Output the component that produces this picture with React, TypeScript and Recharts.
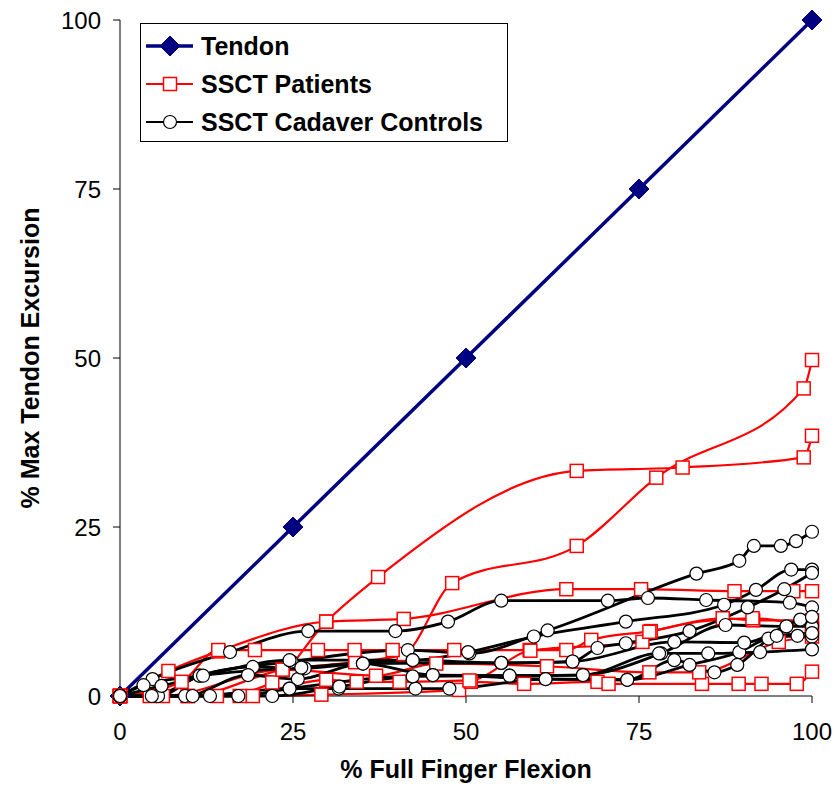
import React from 'react';
import { LineChart, Line, XAxis, YAxis } from 'recharts';

type Pt = [number, number];

const AXIS_TICKS = [0, 25, 50, 75, 100];

const tendon: Pt[] = [[0, 0], [25, 25], [50, 50], [75, 75], [100, 100]];

// SSCT patients
const patientA: Pt[] = [[0, 0], [14, 0], [22, 2], [29.8, 11], [37.3, 17.6], [66, 33.3], [81.3, 33.8], [98.8, 35.3], [100, 38.5]];
const patientB: Pt[] = [[0, 0], [9.8, 0], [23.5, 3.9], [34, 5], [41, 6.2], [48, 16.7], [66, 22.2], [77.5, 32.3], [98.8, 45.5], [100, 49.7]];
const patientC: Pt[] = [[0, 0], [7, 3.7], [14.2, 6.6], [29.8, 11], [41, 11.4], [64.5, 15.8], [75.3, 15.8], [88.8, 15.5], [97.3, 15.5], [100, 15.5]];
const patientD: Pt[] = [[0, 0], [4.3, 0], [9.8, 0], [19.2, 0], [29.1, 0.2], [49, 0.9], [50.7, 2.1], [58.4, 1.8], [69, 2.1], [70.6, 1.8], [84.1, 1.8], [89.4, 1.8], [92.7, 1.8], [97.8, 1.8], [100, 3.6]];
const patientE: Pt[] = [[0, 0], [8.9, 2.1], [14.2, 6.8], [19.5, 6.8], [28.6, 6.8], [33.9, 6.8], [39.4, 6.8], [48.3, 6.8], [59.2, 6.8], [64.5, 6.8], [68.1, 8.3], [76.7, 9.6], [87.1, 11.5], [91.5, 11.2], [100, 11.2]];
const patientF: Pt[] = [[0, 0], [6.2, 0], [23.5, 3.9], [37, 3], [45.7, 4.8], [61.7, 4.4], [76.5, 3.5], [83.7, 3.5], [95.2, 8], [100, 8.8]];
const patientG: Pt[] = [[0, 0], [17.3, 0], [29.8, 2.4], [34.2, 2.1], [40.4, 2.1], [50.5, 2.3], [59.3, 6.7], [75.5, 8], [76.5, 9.5], [91.4, 11.5], [100, 10]];

// SSCT cadaver controls
const cadaver1: Pt[] = [[0, 0], [5.5, 0], [11.5, 3], [24.8, 5.1], [41.6, 6.8], [50.5, 6.3], [61.8, 9.7], [83.3, 18.1], [89.5, 20], [91.6, 22.2], [95.5, 22.2], [97.7, 22.9], [100, 24.3]];
const cadaver2: Pt[] = [[0, 0], [4.7, 2.5], [15.9, 6.5], [27.2, 9.6], [39.8, 9.6], [47.4, 11], [55.1, 14.1], [70.5, 14.1], [76.3, 14.5], [84.7, 14.2], [96.8, 13.8], [100, 13.1]];
const cadaver3: Pt[] = [[0, 0], [3.4, 1.6], [11.5, 3], [24.5, 5.3], [42.3, 5.3], [50.3, 6.5], [59.8, 8.8], [73.1, 11], [87.3, 13.5], [91.9, 15.7], [97, 18.7], [100, 18.7]];
const cadaver4: Pt[] = [[0, 0], [6, 1.5], [19.2, 4.3], [26.7, 4.1], [35.1, 4.8], [55.1, 4.9], [65.4, 5.1], [69, 7.1], [73.1, 7.8], [82.3, 9.6], [90.7, 13.1], [96, 15.8], [100, 18.2]];
const cadaver5: Pt[] = [[0, 0], [9.4, 0], [18.5, 3.1], [25.7, 2.5], [35.1, 4.8], [45.2, 3.1], [56.3, 3], [66.9, 3.1], [78.2, 6.3], [87.5, 10.5], [96.3, 10.3], [100, 10.3]];
const cadaver6: Pt[] = [[0, 0], [10.5, 0], [24.5, 1.1], [31.6, 1.1], [42.7, 1.1], [47.6, 1.1], [61.5, 2.5], [73.3, 2.4], [82.3, 4.6], [89.5, 6.5], [93.7, 8.5], [97.9, 8.9], [100, 8.8]];
const cadaver7: Pt[] = [[0, 0], [13, 0], [22, 0], [31.7, 1.4], [42.3, 2.9], [56.3, 3], [66.9, 3.1], [77.9, 6.3], [85, 6.3], [92.5, 6.5], [100, 6.9]];
const cadaver8: Pt[] = [[0, 0], [4.6, 0], [12, 3], [26.2, 4.2], [42.3, 5.3], [55.1, 4.9], [65.4, 5.1], [80.1, 8], [90.2, 7.9], [98.3, 11.3], [100, 11.7]];
const cadaver9: Pt[] = [[0, 0], [17.1, 0], [24.5, 1.1], [45.2, 3.1], [61.5, 2.5], [73.3, 2.4], [80.1, 5.3], [85.9, 3.5], [89.2, 4.6], [94.9, 8.9], [100, 9.3]];

const patients = [patientA, patientB, patientC, patientD, patientE, patientF, patientG];
const cadavers = [cadaver1, cadaver2, cadaver3, cadaver4, cadaver5, cadaver6, cadaver7, cadaver8, cadaver9];

const LEGEND_ITEMS = [
  { label: 'Tendon', kind: 'diamond' },
  { label: 'SSCT Patients', kind: 'square' },
  { label: 'SSCT Cadaver Controls', kind: 'circle' },
];

const NAVY = '#000080';
const RED = '#ff0000';
const FONT = 'Arial, "Liberation Sans", Helvetica, sans-serif';

const toPoints = (pts: Pt[]) => pts.map(([x, y]) => ({ x, y }));

function Marker({ kind, cx, cy }: { kind: string; cx: number; cy: number }) {
  if (kind === 'diamond') {
    const r = 10;
    return <polygon points={`${cx},${cy - r} ${cx + r},${cy} ${cx},${cy + r} ${cx - r},${cy}`} fill={NAVY} stroke={NAVY} />;
  }
  if (kind === 'square') {
    return <rect x={cx - 6.5} y={cy - 6.5} width={13} height={13} fill="#fff" stroke={RED} strokeWidth={1.5} />;
  }
  return <circle cx={cx} cy={cy} r={6.5} fill="#fff" stroke="#000" strokeWidth={1.2} />;
}

const dotOf = (kind: string) => (p: any) => {
  if (p.cx == null || p.cy == null) return <g key={p.index} />;
  return <Marker key={p.index} kind={kind} cx={p.cx} cy={p.cy} />;
};

function LegendBox() {
  const colors: Record<string, string> = { diamond: NAVY, square: RED, circle: '#000' };
  return (
    <div
      style={{
        position: 'absolute',
        left: 140,
        top: 23,
        border: '1.5px solid #000',
        background: '#fff',
        width: 368,
        height: 119,
        boxSizing: 'border-box',
        paddingTop: 3,
        fontFamily: FONT,
      }}
    >
      {LEGEND_ITEMS.map((it) => (
        <div key={it.label} style={{ display: 'flex', alignItems: 'center', height: 38 }}>
          <svg width={60} height={30} style={{ flex: 'none' }}>
            <line x1={5} y1={15} x2={52} y2={15} stroke={colors[it.kind]} strokeWidth={it.kind === 'diamond' ? 3.5 : 2.2} />
            <Marker kind={it.kind} cx={29} cy={15} />
          </svg>
          <span style={{ fontWeight: 'bold', fontSize: 25, color: '#000', lineHeight: '30px' }}>{it.label}</span>
        </div>
      ))}
    </div>
  );
}

const tickStyle = { fill: '#000', fontSize: 24, fontFamily: FONT };
const titleStyle = { fontWeight: 'bold' as const, fontSize: 25, fontFamily: FONT, fill: '#000' };

export default function App() {
  return (
    <div style={{ position: 'absolute', left: 0, top: 0, width: 838, height: 787, background: '#fff' }}>
      <LineChart width={838} height={787} margin={{ top: 20, right: 26, bottom: 0, left: 0 }}>
        <XAxis
          type="number"
          dataKey="x"
          domain={[0, 100]}
          ticks={AXIS_TICKS}
          height={91}
          tickSize={7}
          tickMargin={20}
          tick={tickStyle}
          axisLine={{ stroke: '#000' }}
          tickLine={{ stroke: '#000' }}
          label={{
            content: (p: any) => (
              <text x={p.viewBox.x + p.viewBox.width / 2} y={p.viewBox.y + 82} textAnchor="middle" style={titleStyle}>
                % Full Finger Flexion
              </text>
            ),
          }}
        />
        <YAxis
          type="number"
          dataKey="y"
          domain={[0, 100]}
          ticks={AXIS_TICKS}
          width={120}
          tickSize={7}
          tickMargin={12}
          tick={tickStyle}
          axisLine={{ stroke: '#000' }}
          tickLine={{ stroke: '#000' }}
          label={{
            content: (p: any) => {
              const cx = p.viewBox.x + 30;
              const cy = p.viewBox.y + p.viewBox.height / 2;
              return (
                <text x={cx} y={cy} transform={`rotate(-90 ${cx} ${cy})`} textAnchor="middle" dominantBaseline="central" style={titleStyle}>
                  % Max Tendon Excursion
                </text>
              );
            },
          }}
        />
        <Line
          data={toPoints(tendon)}
          dataKey="y"
          type="linear"
          stroke={NAVY}
          strokeWidth={3.5}
          dot={dotOf('diamond')}
          activeDot={false}
          isAnimationActive={false}
        />
        {patients.map((s, i) => (
          <Line
            key={`p${i}`}
            data={toPoints(s)}
            dataKey="y"
            type="monotone"
            stroke={RED}
            strokeWidth={2.2}
            dot={dotOf('square')}
            activeDot={false}
            isAnimationActive={false}
          />
        ))}
        {cadavers.map((s, i) => (
          <Line
            key={`c${i}`}
            data={toPoints(s)}
            dataKey="y"
            type="monotone"
            stroke="#000"
            strokeWidth={2.8}
            dot={dotOf('circle')}
            activeDot={false}
            isAnimationActive={false}
          />
        ))}
      </LineChart>
      <LegendBox />
    </div>
  );
}
